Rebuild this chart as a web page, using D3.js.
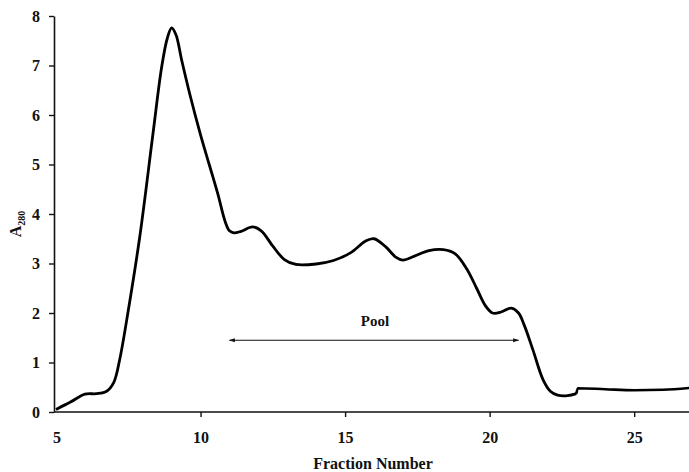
<!DOCTYPE html>
<html><head><meta charset="utf-8">
<script src="https://cdn.jsdelivr.net/npm/d3@7"></script>
<style>
body{margin:0;background:#fff;}
text{font-family:"Liberation Serif","Times New Roman",serif;font-weight:bold;fill:#111;}
</style></head>
<body><svg id="c" width="689" height="472"></svg>
<script>
const fractionsMain = [5.0,5.5,6.0,6.4,6.75,7.0,7.2,7.5,7.9,8.35,8.65,8.85,9.0,9.15,9.35,9.62,10.0,10.3,10.6,10.85,11.0,11.15,11.4,11.8,12.1,12.5,12.9,13.3,14.0,14.6,15.2,15.7,16.0,16.4,16.75,17.0,17.4,17.9,18.4,18.8,19.2,19.55,19.85,20.1,20.4,20.75,21.0,21.2,21.5,21.85,22.1,22.35,22.7,23.0];
const a280Main = [0.05,0.2,0.36,0.37,0.42,0.6,1.05,2.05,3.55,5.6,6.95,7.55,7.76,7.62,7.1,6.44,5.6,5.0,4.4,3.85,3.66,3.62,3.65,3.74,3.66,3.35,3.08,2.98,2.99,3.06,3.22,3.45,3.5,3.34,3.13,3.07,3.15,3.26,3.28,3.2,2.9,2.5,2.15,2.0,2.02,2.1,2.0,1.75,1.25,0.65,0.42,0.34,0.33,0.37];
const fractionsTail = [23.0,23.05,24,25,26,27];
const a280Tail = [0.37,0.48,0.46,0.44,0.45,0.49];
const xTicks = [10,15,20,25];
const yTicks = [0,1,2,3,4,5,6,7,8];
const poolRange = [11,21];
const poolLevel = 1.45;
const poolLabel = "Pool";

const svg = d3.select("#c");
const x = d3.scaleLinear().domain([5,27]).range([56,692]);
const y = d3.scaleLinear().domain([0,8]).range([412,16]);
const FS = 16;

// axes
const xAxis = svg.append("g").attr("transform","translate(0,412)")
  .call(d3.axisBottom(x).tickValues(xTicks).tickSize(5).tickSizeOuter(0));
xAxis.select(".domain").attr("stroke","#111").attr("stroke-width",1.6).attr("d","M54,0H689");
xAxis.selectAll(".tick line").attr("stroke","#111").attr("stroke-width",1.4);
xAxis.selectAll(".tick text").attr("font-size",FS).attr("font-family","Liberation Serif").attr("font-weight","bold").attr("fill","#111")
  .attr("dy",null).attr("y",31);

const yAxis = svg.append("g").attr("transform","translate(54,0)")
  .call(d3.axisLeft(y).tickValues(yTicks).tickSize(5).tickPadding(9).tickSizeOuter(0));
yAxis.select(".domain").attr("stroke","#111").attr("stroke-width",1.6);
yAxis.selectAll(".tick line").attr("stroke","#111").attr("stroke-width",1.4);
yAxis.selectAll(".tick text").attr("font-size",FS).attr("font-family","Liberation Serif").attr("font-weight","bold").attr("fill","#111");

// x = 5 label
svg.append("text").attr("x",x(5)+1).attr("y",443).attr("text-anchor","middle").attr("font-size",FS).text("5");

// curve
const line = d3.line().x(d=>x(d[0])).y(d=>y(d[1])).curve(d3.curveCatmullRom.alpha(0.5));
svg.append("path").datum(fractionsMain.map((f,i)=>[f,a280Main[i]]))
  .attr("d",line).attr("fill","none").attr("stroke","#000").attr("stroke-width",2.8).attr("stroke-linejoin","round");
const lineTail = d3.line().x(d=>x(d[0])).y(d=>y(d[1])).curve(d3.curveMonotoneX);
svg.append("path").datum(fractionsTail.map((f,i)=>[f,a280Tail[i]]))
  .attr("d",lineTail).attr("fill","none").attr("stroke","#000").attr("stroke-width",2.6);

// pool arrow
const defs = svg.append("defs");
["s","e"].forEach(k=>{
  defs.append("marker").attr("id","m"+k).attr("viewBox","0 0 10 10").attr("refX",9).attr("refY",5)
    .attr("markerWidth",8).attr("markerHeight",6).attr("orient","auto-start-reverse").attr("markerUnits","userSpaceOnUse")
    .append("path").attr("d","M0,1.5L10,5L0,8.5z").attr("fill","#111");
});
svg.append("line").attr("x1",x(poolRange[0])).attr("x2",x(poolRange[1])).attr("y1",y(poolLevel)).attr("y2",y(poolLevel))
  .attr("stroke","#111").attr("stroke-width",1.2).attr("marker-start","url(#ms)").attr("marker-end","url(#me)");
svg.append("text").attr("x",x((poolRange[0]+poolRange[1])/2)+1).attr("y",y(poolLevel)-14).attr("text-anchor","middle")
  .attr("font-size",15).text(poolLabel);

// titles
svg.append("text").attr("x",373).attr("y",469).attr("text-anchor","middle").attr("font-size",16).text("Fraction Number");
const yl = svg.append("text").attr("transform","translate(21,224) rotate(-90)").attr("text-anchor","middle").attr("font-size",16);
yl.append("tspan").text("A");
yl.append("tspan").attr("font-size",10).attr("dy",4).text("280");
</script></body></html>
